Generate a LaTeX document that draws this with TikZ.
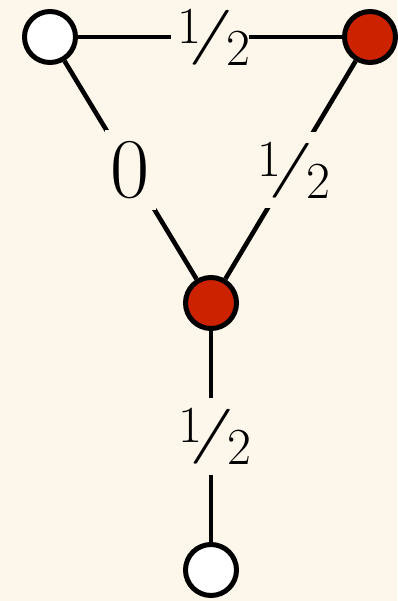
\documentclass[tikz,border=0pt]{standalone}
\usepackage{fontspec}
\usepackage{graphicx}
\definecolor{bgc}{HTML}{FDF6EA}
\definecolor{redc}{HTML}{CC2200}
\newcommand\myhalf{\hbox to 66pt{\fontsize{52}{52}\selectfont\addfontfeatures{FakeBold=2}\rlap{\raisebox{22pt}{1}}\hskip 11pt\rlap{\raisebox{14pt}{\fontsize{55}{55}\selectfont\addfontfeatures{FakeBold=2}\scalebox{1.8}[1]{/}}}\hskip 38pt\rlap{2}\hfil}}
\tikzset{
  vtx/.style={circle, draw=black, line width=5pt, minimum size=51pt, inner sep=0pt},
  wvtx/.style={vtx, fill=white},
  rvtx/.style={vtx, fill=redc},
  edge/.style={line width=4.6pt},
  lbl/.style={fill=bgc, inner xsep=6pt, inner ysep=10pt, font=\fontsize{85}{85}\selectfont\addfontfeatures{FakeBold=2}},
}
\begin{document}
\begin{tikzpicture}[x=1pt,y=1pt]
\fill[bgc] (0,0) rectangle (397,-601);
\useasboundingbox (0,0) rectangle (397,-601);
\node[wvtx] (tl) at (50,-37) {};
\node[rvtx] (tr) at (370,-37) {};
\node[rvtx] (m) at (211,-303) {};
\node[wvtx] (b) at (211,-570) {};
\draw[edge] (tl) -- node[lbl] (l1) {\myhalf} (tr);
\draw[edge] (tl) -- node[lbl, inner ysep=11pt] (l2) {0} (m);
\draw[edge] (tr) -- node[lbl] (l3) {\myhalf} (m);
\draw[edge] (m) -- node[lbl] (l4) {\myhalf} (b);
\end{tikzpicture}
\end{document}
